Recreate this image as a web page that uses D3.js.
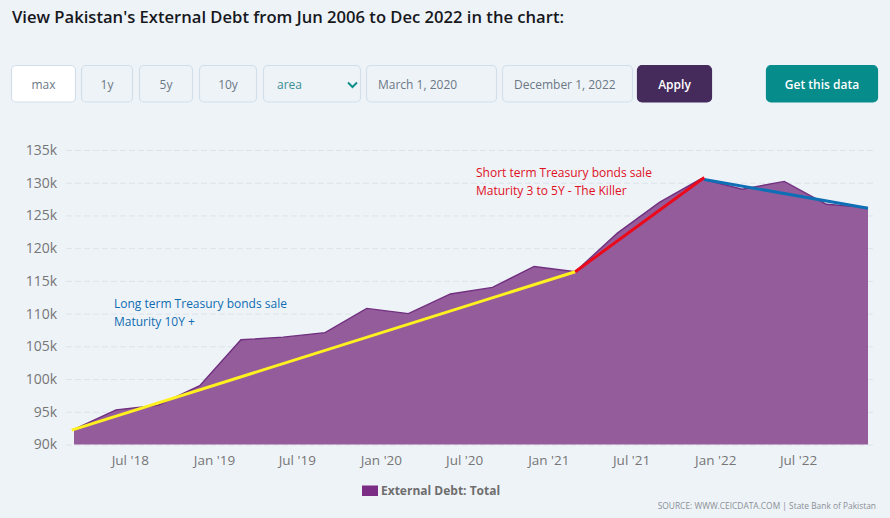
<!DOCTYPE html>
<html>
<head>
<meta charset="utf-8">
<script src="https://cdn.jsdelivr.net/npm/d3@7"></script>
<style>
  html, body { margin: 0; padding: 0; background: #eef3f8; overflow: hidden; }
  svg { display: block; }
  text { font-family: "Open Sans", "Noto Sans", sans-serif; }
</style>
</head>
<body>
<script>
// quarterly, USD mn
const dates = ['2018-03-01','2018-06-01','2018-09-01','2018-12-01','2019-03-01','2019-06-01','2019-09-01','2019-12-01',
  '2020-03-01','2020-06-01','2020-09-01','2020-12-01','2021-03-01','2021-06-01','2021-09-01','2021-12-01',
  '2022-03-01','2022-06-01','2022-09-01','2022-12-01']
const debt = [92300,95300,96000,99000,106000,106400,107100,110800,
  110000,113000,114000,117200,116400,122300,127000,130600,
  129000,130200,126700,126200]

const yTicks = [90000,95000,100000,105000,110000,115000,120000,125000,130000,135000]
const xTicks = ['2018-07-01','2019-01-01','2019-07-01','2020-01-01','2020-07-01','2021-01-01','2021-07-01','2022-01-01','2022-07-01']

// hand drawn trend lines on top of the chart
const yellowDates = ['2018-02-24','2021-03-01']
const yellowValues = [92200,116400]
const redDates = ['2021-03-01','2021-12-08']
const redValues = [116400,130800]
const blueDates = ['2021-12-08','2022-12-01']
const blueValues = [130500,126100]

const buttonLabels = ['max','1y','5y','10y']
const dateLabels = ['March 1, 2020','December 1, 2022']

const parse = d3.utcParse('%Y-%m-%d')
const fmtTick = d3.utcFormat("%b '%y")

let svg = d3
  .select('body')
  .append('svg')
  .attr('width', 890)
  .attr('height', 518)

svg.append('text')
  .attr('x', 12)
  .attr('y', 23)
  .attr('font-size', 16.6)
  .attr('font-weight', 600)
  .attr('fill', '#16181d')
  .text("View Pakistan's External Debt from Jun 2006 to Dec 2022 in the chart:")

// controls row
const controlY = 65
const controlH = 37.5

function box(x, w, fill, stroke) {
  svg.append('rect')
    .attr('x', x + 0.5).attr('y', controlY + 0.5)
    .attr('width', w - 1).attr('height', controlH - 1)
    .attr('rx', 4.5)
    .attr('fill', fill)
    .attr('stroke', stroke)
    .attr('stroke-width', 1.2)
}

function label(x, txt, color, size, weight, anchor) {
  svg.append('text')
    .attr('x', x).attr('y', controlY + 24)
    .attr('font-size', size)
    .attr('font-weight', weight)
    .attr('fill', color)
    .attr('text-anchor', anchor)
    .text(txt)
}

const buttonX = [11, 81, 139, 199]
const buttonW = [65, 52, 54, 58]
buttonLabels.forEach((d, i) => {
  box(buttonX[i], buttonW[i], i === 0 ? '#ffffff' : '#eef3f8', '#d3dfe8')
  label(buttonX[i] + buttonW[i] / 2, d, '#6c7885', 12, 400, 'middle')
})

box(263, 98, '#eef3f8', '#d3dfe8')
label(277, 'area', '#3a8f93', 12, 400, 'start')
svg.append('path')
  .attr('d', 'M348 82.5 L352.5 87 L357 82.5')
  .attr('fill', 'none')
  .attr('stroke', '#0f8f8b')
  .attr('stroke-width', 2)

const dateX = [366, 502]
const dateW = [131, 131]
dateLabels.forEach((d, i) => {
  box(dateX[i], dateW[i], '#eef3f8', '#d3dfe8')
  label(dateX[i] + 12, d, '#6c7885', 12, 400, 'start')
})

box(637, 75, '#452b5c', '#452b5c')
label(674.5, 'Apply', '#ffffff', 12, 600, 'middle')
box(766, 112, '#078c8c', '#078c8c')
label(822, 'Get this data', '#ffffff', 12, 600, 'middle')

// chart
const x = d3.scaleUtc()
  .domain([parse(dates[0]), parse(dates[dates.length - 1])])
  .range([74, 868])

const y = d3.scaleLinear()
  .domain([90000, 135000])
  .range([444.5, 150])

const series = dates.map((d, i) => ({ date: parse(d), value: debt[i] }))

let yAxis = svg.append('g')
  .attr('transform', 'translate(66,0)')
  .call(d3.axisLeft(y)
    .tickValues(yTicks)
    .tickSize(-810)
    .tickPadding(9)
    .tickFormat(d => d / 1000 + 'k'))

yAxis.select('.domain').remove()
yAxis.selectAll('line')
  .attr('stroke', '#dde3e9')
  .attr('stroke-dasharray', '6,3')
yAxis.selectAll('text')
  .attr('font-family', '"DejaVu Sans", sans-serif')
  .attr('font-size', 14)
  .attr('fill', '#767676')

svg.append('path')
  .datum(series)
  .attr('fill', '#955c9c')
  .attr('d', d3.area().x(d => x(d.date)).y0(y(90000)).y1(d => y(d.value)))

svg.append('path')
  .datum(series)
  .attr('fill', 'none')
  .attr('stroke', '#70307f')
  .attr('stroke-width', 1.4)
  .attr('d', d3.line().x(d => x(d.date)).y(d => y(d.value)))

let xAxis = svg.append('g')
  .attr('transform', 'translate(0,444.5)')
  .call(d3.axisBottom(x)
    .tickValues(xTicks.map(parse))
    .tickSize(0)
    .tickPadding(11)
    .tickFormat(fmtTick))

xAxis.select('.domain').remove()
xAxis.selectAll('text')
  .attr('font-family', '"DejaVu Sans", sans-serif')
  .attr('font-size', 13.5)
  .attr('fill', '#767676')

function trend(ds, vs, color) {
  const pts = ds.map((d, i) => [x(parse(d)), y(vs[i])])
  svg.append('path')
    .attr('d', d3.line()(pts))
    .attr('fill', 'none')
    .attr('stroke', color)
    .attr('stroke-width', 3)
}

trend(blueDates, blueValues, '#0f6fb5')
trend(yellowDates, yellowValues, '#fff01f')
trend(redDates, redValues, '#ea0a1c')

// annotations
function note(xp, yp, txt, color) {
  svg.append('text')
    .attr('x', xp).attr('y', yp)
    .attr('font-family', '"Noto Sans", sans-serif')
    .attr('font-size', 12)
    .attr('fill', color)
    .text(txt)
}

note(476, 177, 'Short term Treasury bonds sale', '#e0101e')
note(476, 195, 'Maturity 3 to 5Y - The Killer', '#e0101e')
note(114, 308, 'Long term Treasury bonds sale', '#0f6cb0')
note(114, 326, 'Maturity 10Y +', '#0f6cb0')

// legend
svg.append('rect')
  .attr('x', 362).attr('y', 485.5)
  .attr('width', 16).attr('height', 10.5)
  .attr('fill', '#7b2d85')

svg.append('text')
  .attr('x', 381).attr('y', 495)
  .attr('font-family', '"DejaVu Sans", sans-serif')
  .attr('font-size', 12)
  .attr('font-weight', 700)
  .attr('fill', '#6e6e6e')
  .text('External Debt: Total')

svg.append('text')
  .attr('x', 876).attr('y', 509)
  .attr('text-anchor', 'end')
  .attr('font-family', '"DejaVu Sans", sans-serif')
  .attr('font-size', 8.4)
  .attr('fill', '#8a8f94')
  .text('SOURCE: WWW.CEICDATA.COM | State Bank of Pakistan')
</script>
</body>
</html>
